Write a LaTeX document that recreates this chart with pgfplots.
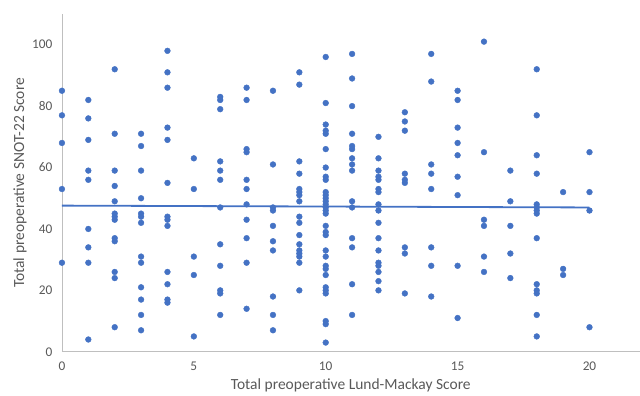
\documentclass[border=0pt]{standalone}
\usepackage{pgfplots}
\pgfplotsset{compat=1.18}
\usepackage{pgfplotstable}
\usepackage{fontspec}
\setmainfont{Carlito}
\definecolor{xlblue}{HTML}{4472C4}
\definecolor{txtgray}{HTML}{595959}
\definecolor{axgray}{HTML}{BFBFBF}
\pgfplotstableread{
x y
0 85
0 77
0 68
0 53
0 29
1 82
1 76
1 69
1 59
1 56
1 40
1 34
1 29
1 4
2 92
2 71
2 59
2 54
2 49
2 45
2 44
2 43
2 37
2 36
2 26
2 24
2 8
3 71
3 67
3 59
3 50
3 45
3 44
3 42
3 31
3 29
3 21
3 17
3 12
3 7
4 98
4 91
4 86
4 73
4 69
4 55
4 44
4 43
4 41
4 26
4 22
4 17
4 16
5 63
5 53
5 31
5 25
5 5
6 83
6 82
6 79
6 62
6 59
6 56
6 47
6 35
6 28
6 20
6 19
6 12
7 86
7 82
7 66
7 65
7 56
7 53
7 48
7 43
7 37
7 29
7 14
8 85
8 61
8 47
8 46
8 41
8 36
8 33
8 18
8 12
8 7
9 91
9 87
9 62
9 58
9 53
9 52
9 51
9 49
9 44
9 42
9 38
9 35
9 33
9 32
9 31
9 29
9 20
10 96
10 81
10 74
10 72
10 71
10 66
10 60
10 57
10 56
10 52
10 51
10 50
10 49
10 48
10 47
10 46
10 45
10 41
10 39
10 38
10 33
10 31
10 28
10 27
10 25
10 21
10 20
10 19
10 10
10 9
10 3
11 97
11 89
11 80
11 71
11 67
11 66
11 63
11 61
11 59
11 49
11 47
11 37
11 34
11 22
11 12
12 70
12 63
12 59
12 57
12 56
12 53
12 52
12 48
12 46
12 42
12 37
12 33
12 29
12 28
12 26
12 23
12 20
13 78
13 75
13 72
13 58
13 56
13 55
13 34
13 32
13 19
14 97
14 88
14 61
14 58
14 53
14 34
14 28
14 18
15 85
15 82
15 73
15 68
15 64
15 57
15 51
15 28
15 11
16 101
16 65
16 43
16 41
16 31
16 26
17 59
17 49
17 41
17 32
17 24
18 92
18 77
18 64
18 58
18 48
18 47
18 46
18 45
18 37
18 22
18 20
18 19
18 12
18 5
19 52
19 27
19 25
20 65
20 52
20 46
20 8
}\scoredata
\begin{document}
\begin{tikzpicture}
\begin{axis}[
  scale only axis,
  width=578bp, height=338bp,
  xmin=0, xmax=21.9, ymin=0, ymax=110,
  axis x line=bottom, axis y line=left,
  axis line style={-, draw=axgray, line width=0.8bp},
  xtick={0,5,10,15,20}, ytick={0,20,40,60,80,100},
  major tick length=0pt,
  /pgf/number format/assume math mode=true,
  tick label style={font=\fontsize{13.3bp}{15bp}\selectfont, text=txtgray},
  xticklabel style={anchor=north, yshift=-6.5bp},
  yticklabel style={anchor=east, xshift=-6bp},
  xlabel={Total preoperative Lund-Mackay Score},
  ylabel={Total preoperative SNOT-22 Score},
  every axis x label/.style={at={(axis description cs:0.5,-0.10)}, anchor=center, font=\fontsize{15.5bp}{18bp}\selectfont, text=txtgray},
  every axis y label/.style={at={(axis description cs:-0.0727,0.5)}, anchor=center, rotate=90, font=\fontsize{15.5bp}{18bp}\selectfont, text=txtgray},
  clip=false,
]
\addplot[only marks, mark=*, mark size=2.9bp, color=xlblue, mark options={draw=xlblue, fill=xlblue}] table[x=x, y=y] {\scoredata};
\addplot[xlblue, line width=1.8bp] coordinates {(0,47.6) (20,47.0)};
\end{axis}
\path (current axis.south west) ++(-62bp,-44bp) rectangle ++(640bp,396bp);
\end{tikzpicture}
\end{document}
